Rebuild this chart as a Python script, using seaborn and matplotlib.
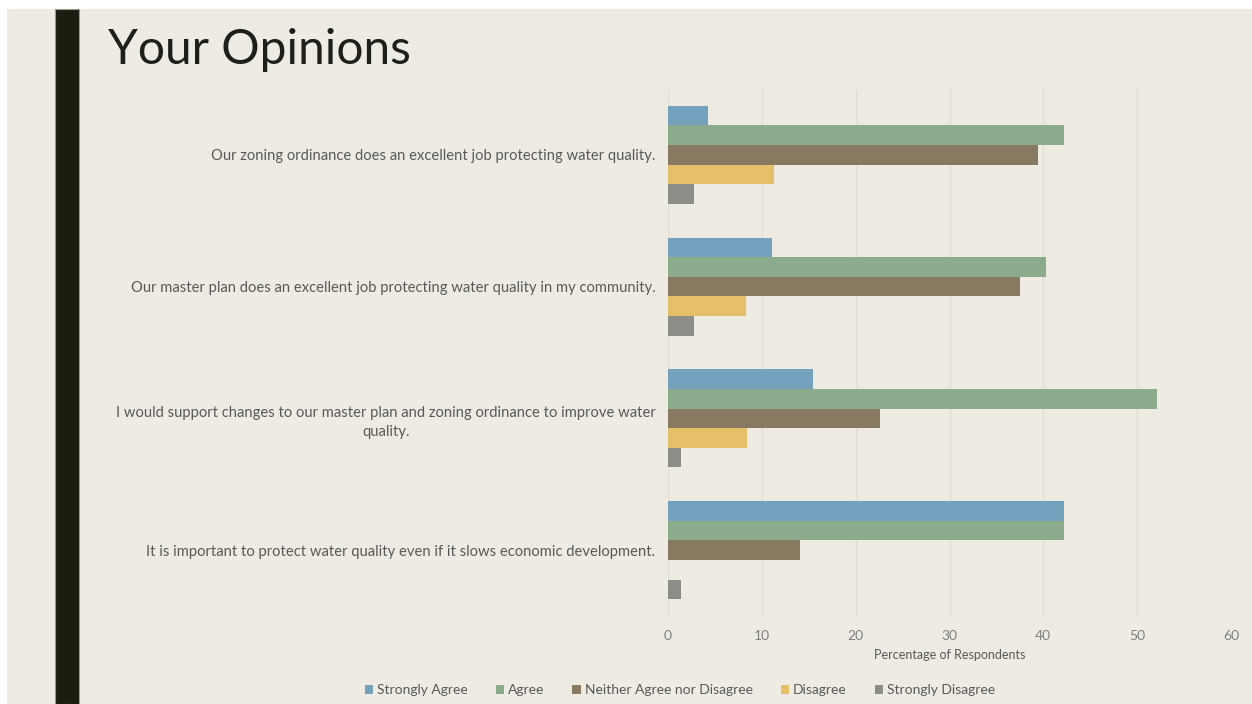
import matplotlib.pyplot as plt
import matplotlib.patches as mpatches
import seaborn as sns
import pandas as pd

# survey statements, top to bottom
statements = [
    "Our zoning ordinance does an excellent job protecting water quality.",
    "Our master plan does an excellent job protecting water quality in my community.",
    "I would support changes to our master plan and zoning ordinance to improve water\nquality.",
    "It is important to protect water quality even if it slows economic development.",
]
responses = ["Strongly Agree", "Agree", "Neither Agree nor Disagree", "Disagree", "Strongly Disagree"]

# percentage of respondents, one list per response level (same order as statements)
strongly_agree = [4.23, 11.11, 15.49, 42.25]
agree = [42.25, 40.28, 52.11, 42.25]
neither = [39.44, 37.50, 22.54, 14.08]
disagree = [11.27, 8.33, 8.45, 0.0]
strongly_disagree = [2.82, 2.78, 1.41, 1.41]

colors = ["#74A1BD", "#8BAB8C", "#877A60", "#E6BF69", "#8C8C88"]
bg = "#EEEBE3"

rows = []
for resp, vals in zip(responses, [strongly_agree, agree, neither, disagree, strongly_disagree]):
    for s, v in zip(statements, vals):
        rows.append({"statement": s, "response": resp, "pct": v})
df = pd.DataFrame(rows)

sns.set_style("white")
plt.rcParams['font.family'] = ['Lato', 'DejaVu Sans']

fig = plt.figure(figsize=(12.52, 7.04), dpi=100, facecolor="white")
W, H = 1252, 704
# slide background with a thin white margin on the left and top
fig.patches.append(mpatches.Rectangle((7 / W, 0), 1 - 7 / W, 1 - 9 / H, transform=fig.transFigure,
                                      facecolor=bg, edgecolor="none", zorder=-2))
fig.patches.append(mpatches.Rectangle((55 / W, 0), 24 / W, 1 - 9 / H, transform=fig.transFigure,
                                      facecolor="#1C1C10", edgecolor="#9A9A8C", linewidth=0.8, zorder=-1))

fig.text(108 / W, 1 - 50 / H, "Your Opinions", fontsize=34.5, color="#1E1E1A", va="center", ha="left")

ax = fig.add_axes([668 / W, 1 - 616 / H, (1231 - 668) / W, (616 - 89) / H])
ax.set_facecolor("none")

sns.barplot(data=df, x="pct", y="statement", hue="response", orient="h",
            palette=colors, hue_order=responses, order=statements,
            width=0.745, gap=0, saturation=1, ax=ax, errorbar=None, zorder=3,
            edgecolor="none", linewidth=0)

ax.set_xlim(0, 60)
ax.set_xticks(range(0, 61, 10))
ax.grid(axis="x", color="#E0DDD5", linewidth=1, zorder=0)
ax.grid(axis="y", visible=False)
for sp in ax.spines.values():
    sp.set_visible(False)

ax.tick_params(axis="x", colors="#7F7F7F", labelsize=10, pad=10, length=0)
ax.tick_params(axis="y", colors="#595959", labelsize=10.6, pad=9, length=0)
for lab in ax.get_yticklabels():
    lab.set_multialignment("center")
    lab.set_linespacing(1.5)
ax.set_ylabel("")
ax.set_xlabel("Percentage of Respondents", fontsize=9, color="#595959", labelpad=5)

sns.move_legend(ax, "center", bbox_to_anchor=(680 / W, 1 - 690 / H), bbox_transform=fig.transFigure,
                ncol=5, frameon=False, title=None, fontsize=10, handlelength=0.6, handleheight=0.6,
                handletextpad=0.3, columnspacing=2.0)
for t in ax.get_legend().get_texts():
    t.set_color("#595959")

fig.savefig("out.png", dpi=100, facecolor="white")
